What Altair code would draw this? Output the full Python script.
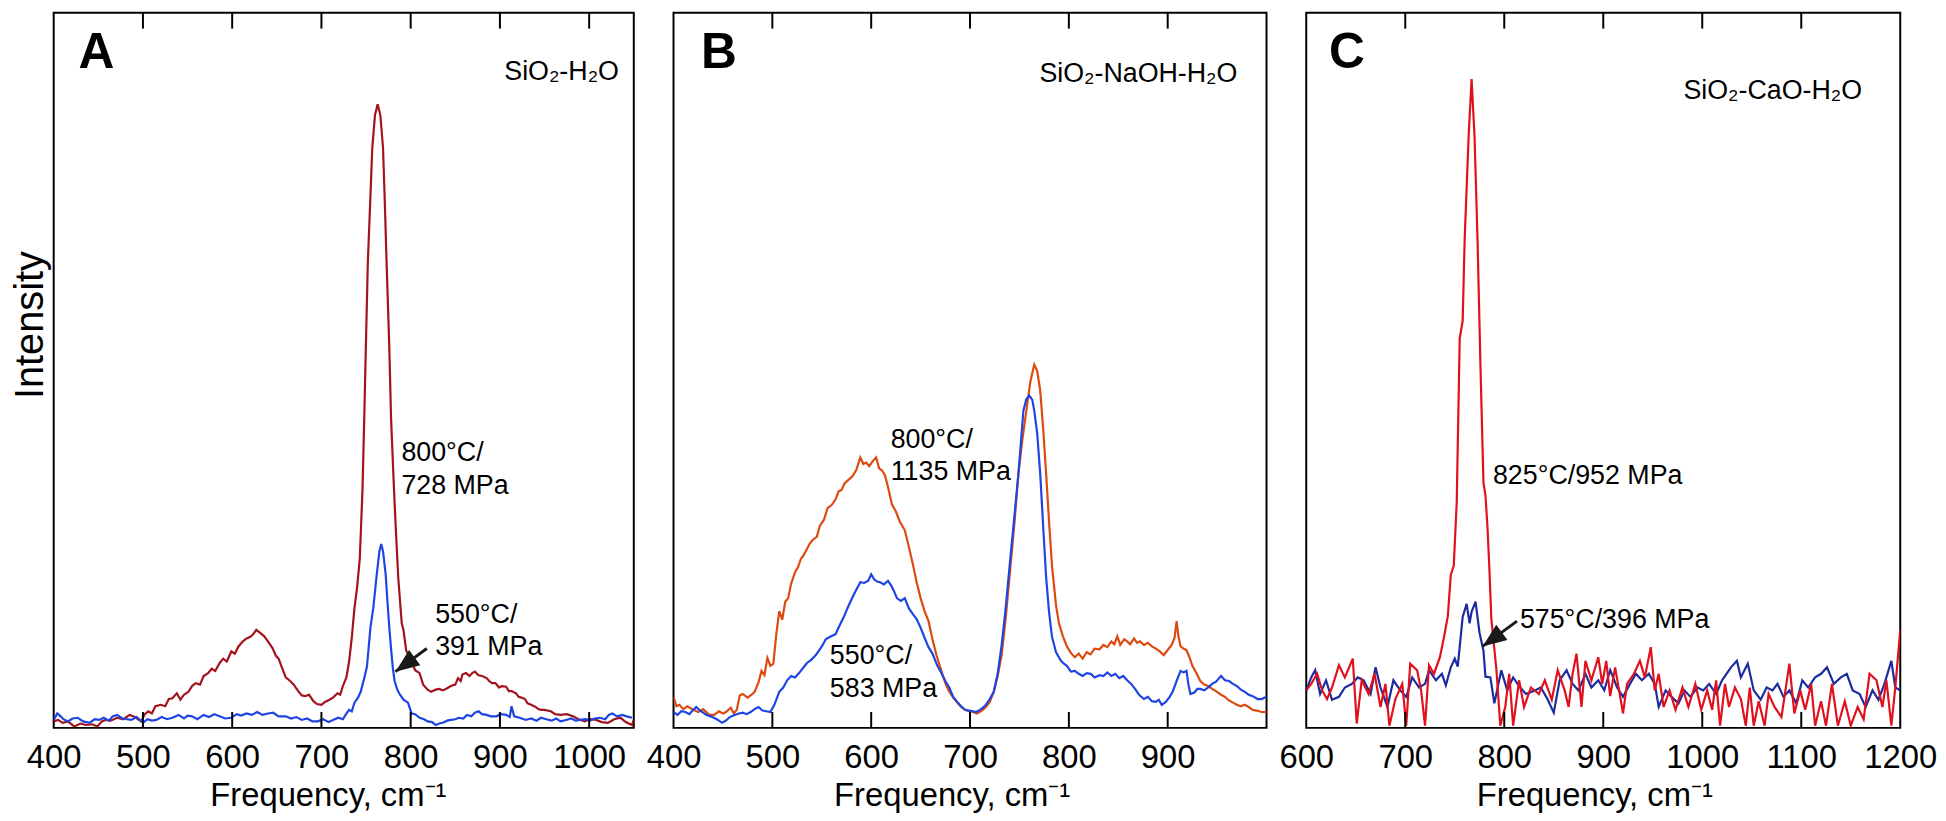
import altair as alt
import pandas as pd

FONT = "Liberation Sans"
H = 720
YTOP = 99.2

# ---------------- Panel A : SiO2-H2O ----------------
A_RED_X = [400, 405, 410, 416, 423, 430, 436, 443, 449, 454, 458, 464, 471, 478, 485, 491, 498, 502, 506, 510,
           514, 520, 525, 529, 533, 538, 542, 546, 551, 555, 559, 564, 568, 573, 577, 581, 586, 590, 594, 599,
           603, 607, 612, 616, 620, 623, 627, 631, 636, 640, 645, 649, 652, 656, 660, 665, 669, 674, 678, 682,
           686, 691, 695, 700, 704, 709, 713, 718, 721, 724, 728, 731, 734, 737, 740, 743, 746, 748, 750, 752,
           755, 757, 760, 763, 766, 769, 771, 773, 776, 778, 781, 783, 786, 788, 790, 792, 795, 798, 801, 805,
           810, 814, 819, 823, 828, 832, 836, 841, 845, 850, 853, 856, 858, 862, 866, 869, 872, 876, 880, 885,
           888, 891, 895, 899, 902, 907, 910, 913, 918, 921, 924, 928, 931, 935, 940, 943, 946, 950, 957, 962,
           968, 975, 982, 988, 995, 1001, 1008, 1014, 1021, 1028, 1035, 1041, 1048, 1050]
A_RED_Y = [0.9, 1.1, 0.7, 0.9, 0.2, 0.6, 0.4, 0.5, 0.2, 0.9, 1.1, 1.0, 1.4, 1.2, 1.8, 1.5, 0.9, 1.9, 2.3, 2.0,
           3.0, 3.2, 3.0, 4.0, 4.1, 4.8, 3.9, 4.6, 5.0, 5.8, 6.2, 6.0, 7.2, 7.6, 8.2, 7.9, 9.0, 9.6, 9.2, 10.6,
           10.3, 11.3, 12.0, 12.4, 12.6, 12.9, 13.6, 13.2, 12.7, 12.0, 11.1, 10.0, 9.6, 8.3, 7.0, 6.5, 6.0, 5.1, 4.5, 4.4,
           4.6, 3.7, 3.3, 3.2, 3.6, 3.9, 4.2, 4.8, 4.6, 5.8, 7.0, 9.2, 12.5, 16.6, 19.5, 23.5, 33.0, 43.0, 54.0, 64.6,
           74.0, 80.5, 85.0, 86.5, 85.0, 80.5, 73.0, 64.6, 53.0, 43.0, 34.0, 28.5, 21.0, 17.7, 14.5, 13.5, 10.7, 10.0, 9.2, 8.0,
           7.6, 6.0, 5.3, 5.0, 5.3, 5.4, 5.2, 5.5, 5.8, 6.0, 6.9, 6.5, 7.4, 7.6, 7.2, 7.6, 7.8, 7.3, 7.2, 6.9,
           6.5, 6.2, 6.2, 5.6, 5.8, 5.7, 5.1, 5.1, 4.8, 4.3, 4.2, 4.0, 3.4, 3.2, 2.9, 2.6, 2.5, 2.5, 2.3, 1.9,
           1.8, 1.9, 1.6, 1.2, 0.9, 1.2, 1.1, 0.8, 0.7, 1.2, 1.4, 0.8, 0.4, 1.1]
A_BLUE_X = [400, 404, 407, 411, 416, 421, 427, 433, 440, 446, 451, 456, 462, 466, 471, 477, 482, 487, 493, 500,
            505, 510, 515, 521, 527, 533, 540, 546, 550, 555, 561, 568, 574, 580, 586, 592, 599, 605, 610, 616,
            622, 628, 634, 640, 646, 652, 660, 666, 672, 678, 684, 690, 696, 702, 708, 713, 719, 724, 727, 731,
            734, 737, 741, 744, 748, 751, 755, 758, 762, 765, 767, 769, 772, 774, 776, 778, 780, 782, 785, 788,
            792, 797, 801, 805, 810, 815, 819, 824, 828, 832, 836, 841, 845, 850, 854, 859, 863, 868, 872, 876,
            880, 885, 890, 896, 901, 907, 911, 913, 916, 922, 929, 935, 941, 946, 952, 958, 963, 968, 974, 980,
            985, 990, 996, 1001, 1006, 1012, 1018, 1022, 1026, 1031, 1037, 1042, 1048]
A_BLUE_Y = [1.1, 2.0, 1.7, 1.2, 0.9, 1.3, 1.4, 0.9, 0.7, 1.2, 1.1, 1.4, 1.0, 1.6, 1.8, 1.3, 1.2, 1.1, 1.5, 0.7,
            1.2, 1.0, 1.1, 1.5, 1.2, 1.4, 1.8, 1.3, 1.7, 1.6, 1.2, 1.8, 1.5, 1.9, 1.6, 1.3, 1.4, 1.9, 1.7, 2.0,
            1.8, 2.2, 1.8, 2.0, 2.1, 1.6, 1.6, 1.3, 1.5, 1.1, 1.3, 0.9, 0.9, 1.2, 0.8, 1.1, 1.4, 1.2, 1.8, 2.5,
            2.3, 3.5, 4.2, 5.0, 6.9, 8.5, 14.0, 16.5, 21.3, 24.5, 25.5, 24.5, 21.3, 17.5, 14.0, 11.0, 8.3, 6.5, 5.3, 4.6,
            3.9, 3.5, 2.0, 1.9, 1.4, 1.2, 0.9, 0.8, 0.4, 0.6, 0.7, 1.0, 1.1, 1.2, 1.4, 1.3, 1.8, 1.6, 2.1, 2.3,
            1.9, 1.8, 1.6, 1.6, 1.9, 1.8, 1.5, 3.0, 1.6, 1.4, 1.1, 1.3, 1.0, 1.4, 1.2, 1.0, 1.3, 0.9, 1.1, 1.3,
            1.0, 1.1, 1.2, 1.0, 1.3, 1.4, 1.2, 1.8, 2.0, 1.6, 1.8, 1.6, 1.4]

# ---------------- Panel B : SiO2-NaOH-H2O ----------------
B_OR_X = [400, 403, 406, 410, 414, 420, 425, 430, 436, 441, 446, 450, 453, 458, 461, 464, 467, 470, 475, 479,
          482, 486, 489, 492, 495, 498, 501, 504, 507, 510, 513, 516, 519, 523, 526, 529, 531, 535, 538, 541,
          545, 548, 552, 556, 560, 564, 567, 570, 573, 577, 581, 585, 589, 592, 595, 598, 601, 605, 608, 611,
          614, 617, 621, 625, 629, 634, 638, 642, 646, 650, 654, 658, 662, 666, 671, 675, 679, 683, 687, 691,
          695, 699, 703, 707, 712, 716, 720, 724, 728, 732, 736, 740, 745, 749, 753, 757, 761, 765, 768, 771,
          774, 777, 780, 783, 787, 790, 794, 798, 802, 806, 810, 814, 818, 822, 826, 831, 835, 839, 843, 846,
          849, 852, 856, 859, 862, 866, 869, 872, 876, 880, 884, 888, 892, 896, 900, 904, 907, 909, 911, 913,
          916, 919, 922, 925, 929, 933, 937, 941, 945, 950, 954, 958, 962, 966, 970, 974, 978, 982, 986, 990,
          995, 1000]
B_OR_Y = [4.3, 3.0, 3.2, 2.6, 3.0, 2.5, 2.2, 2.6, 1.8, 1.8, 2.3, 2.0, 2.2, 2.8, 2.0, 2.5, 4.5, 4.7, 4.2, 4.6,
          5.0, 6.3, 7.9, 7.3, 9.7, 8.6, 8.9, 13.0, 16.2, 15.0, 17.5, 18.0, 20.0, 21.6, 22.3, 23.5, 23.8, 24.8, 25.6, 26.1,
          26.5, 28.0, 28.8, 30.5, 30.9, 31.7, 32.8, 33.0, 33.9, 34.4, 34.9, 35.8, 37.5, 36.6, 36.8, 36.3, 36.9, 37.5, 36.0, 35.7,
          35.0, 33.4, 31.0, 30.0, 28.6, 27.4, 25.2, 22.8, 20.2, 18.0, 16.2, 14.8, 12.3, 10.1, 7.9, 6.2, 5.0, 4.2, 3.5, 2.9,
          2.5, 2.3, 2.2, 2.0, 2.4, 2.9, 3.6, 5.0, 7.2, 10.1, 15.0, 21.0, 28.5, 35.3, 40.0, 44.0, 48.0, 50.4, 49.5, 46.8,
          41.5, 35.3, 28.5, 22.4, 17.0, 14.5, 12.7, 11.3, 10.4, 9.8, 10.3, 9.6, 10.5, 10.2, 11.0, 10.9, 11.5, 11.2, 12.0, 11.6,
          12.7, 11.5, 12.3, 12.0, 11.6, 12.4, 11.8, 12.0, 11.5, 11.8, 11.3, 11.0, 10.6, 10.1, 10.8, 11.5, 12.5, 14.8, 12.6, 11.3,
          11.0, 10.8, 9.8, 8.6, 7.6, 6.5, 6.0, 5.8, 5.4, 5.0, 4.6, 4.3, 3.8, 3.5, 3.2, 3.0, 3.2, 2.9, 2.5, 2.4,
          2.2, 2.2]
B_BL_X = [400, 404, 408, 412, 416, 420, 423, 427, 430, 433, 437, 441, 445, 449, 453, 457, 462, 466, 470, 474,
          478, 482, 486, 490, 494, 498, 502, 507, 511, 515, 519, 523, 527, 531, 535, 539, 544, 548, 551, 554,
          558, 561, 564, 568, 572, 576, 580, 584, 589, 593, 597, 600, 603, 606, 609, 613, 617, 620, 623, 626,
          630, 634, 638, 642, 646, 650, 654, 658, 662, 667, 671, 675, 679, 683, 687, 691, 695, 699, 703, 706,
          710, 713, 716, 720, 724, 728, 732, 736, 740, 745, 749, 752, 754, 757, 760, 763, 765, 768, 771, 774,
          777, 780, 783, 787, 792, 795, 798, 802, 806, 810, 814, 818, 822, 826, 831, 835, 839, 843, 847, 851,
          855, 859, 863, 867, 871, 876, 880, 884, 888, 891, 894, 898, 902, 905, 909, 913, 916, 919, 921, 923,
          927, 930, 933, 937, 941, 945, 949, 952, 954, 958, 962, 966, 970, 974, 978, 982, 986, 991, 995, 1000]
B_BL_Y = [2.2, 1.8, 2.3, 2.2, 1.9, 2.5, 2.9, 2.4, 2.1, 1.8, 1.6, 1.4, 1.1, 0.7, 1.0, 1.5, 1.8, 2.0, 2.1, 1.9,
          2.2, 2.6, 2.9, 2.4, 2.3, 2.2, 3.2, 5.0, 5.6, 6.6, 7.2, 7.0, 7.6, 8.3, 9.0, 9.4, 10.1, 10.9, 11.5, 12.3,
          12.6, 12.8, 13.0, 14.2, 15.3, 16.6, 17.8, 18.9, 20.2, 20.1, 20.4, 21.3, 20.6, 20.3, 20.2, 19.9, 20.4, 19.8, 19.0, 18.0,
          17.6, 18.0, 16.6, 15.8, 15.1, 13.9, 12.5, 11.2, 10.3, 8.6, 7.6, 6.5, 5.6, 4.3, 3.6, 3.0, 2.5, 2.4, 2.3, 2.2,
          2.5, 2.8, 3.2, 4.0, 5.0, 7.5, 11.5, 16.5, 22.4, 29.5, 35.3, 40.5, 44.0, 45.6, 46.1, 45.5, 44.0, 40.8, 35.3, 28.0,
          20.9, 16.0, 12.6, 10.5, 9.3, 8.9, 8.6, 7.8, 7.9, 7.5, 7.2, 7.6, 7.5, 7.0, 7.3, 7.2, 7.7, 7.2, 7.5, 6.9,
          7.2, 6.6, 6.1, 5.4, 4.6, 4.0, 4.3, 3.7, 3.6, 3.9, 3.2, 3.6, 4.3, 5.0, 6.5, 7.9, 7.7, 7.9, 6.0, 4.7,
          4.9, 5.4, 5.4, 5.2, 5.6, 6.1, 6.4, 6.9, 7.2, 6.6, 6.5, 6.1, 5.8, 5.3, 5.0, 4.6, 4.4, 4.0, 4.0, 4.3]

# ---------------- Panel C : SiO2-CaO-H2O ----------------
C_RED_X = [600, 605, 611, 616, 621, 626, 633, 639, 647, 651, 656, 663, 669, 675, 680, 684, 690, 697, 701, 705,
           712, 716, 720, 724, 729, 735, 739, 743, 746, 749, 752, 755, 758, 760, 764, 767, 770, 773, 776, 779,
           781, 783, 785, 787, 792, 796, 801, 805, 809, 815, 820, 827, 835, 841, 848, 854, 861, 865, 869, 873,
           878, 882, 888, 895, 899, 903, 907, 912, 916, 920, 924, 931, 937, 942, 948, 952, 956, 961, 967, 973,
           980, 986, 993, 999, 1005, 1010, 1014, 1018, 1023, 1027, 1033, 1039, 1044, 1048, 1052, 1057, 1063, 1067, 1073, 1080,
           1084, 1088, 1093, 1099, 1104, 1110, 1114, 1120, 1125, 1131, 1137, 1144, 1150, 1157, 1163, 1169, 1176, 1182, 1186, 1191,
           1195, 1200]
C_RED_Y = [5.2, 6.1, 7.5, 5.2, 4.0, 5.6, 8.7, 7.0, 9.6, 0.6, 6.6, 4.7, 7.5, 2.9, 6.1, 0.3, 4.0, 6.1, 0.3, 8.9,
           8.0, 5.2, 0.3, 8.7, 7.5, 9.8, 12.5, 15.5, 21.2, 22.5, 31.3, 54.0, 56.5, 67.7, 82.0, 90.0, 82.0, 67.7, 50.0, 34.0,
           32.3, 28.0, 22.0, 15.0, 8.2, 0.3, 2.9, 7.5, 0.3, 6.6, 2.9, 5.6, 4.7, 6.6, 3.9, 8.0, 5.2, 2.9, 7.5, 10.3,
           2.9, 9.3, 6.6, 9.8, 6.1, 9.3, 4.4, 8.4, 5.2, 2.0, 6.1, 7.5, 9.3, 7.0, 11.2, 5.2, 7.5, 2.9, 5.2, 2.5,
           5.6, 2.9, 6.1, 2.5, 5.2, 2.5, 6.6, 0.3, 6.1, 2.9, 5.6, 4.0, 0.3, 5.6, 0.3, 3.7, 0.3, 4.7, 2.9, 1.5,
           5.2, 8.9, 2.0, 5.2, 2.5, 6.1, 0.3, 3.7, 0.3, 6.1, 0.3, 3.7, 0.3, 2.9, 1.2, 7.5, 6.6, 2.9, 6.6, 0.3,
           5.6, 13.6]
C_BL_X = [600, 605, 609, 614, 620, 626, 633, 639, 646, 652, 658, 665, 670, 675, 682, 688, 695, 701, 707, 714,
          720, 724, 731, 737, 741, 746, 750, 753, 758, 762, 765, 767, 771, 775, 779, 781, 786, 790, 797, 803,
          809, 816, 822, 831, 837, 844, 850, 856, 863, 869, 875, 882, 888, 895, 901, 907, 914, 920, 927, 933,
          939, 946, 952, 956, 963, 969, 976, 982, 988, 995, 1001, 1007, 1014, 1020, 1029, 1035, 1039, 1046, 1052, 1059,
          1065, 1071, 1076, 1082, 1088, 1095, 1101, 1107, 1114, 1120, 1126, 1133, 1140, 1146, 1152, 1159, 1165, 1172,
          1178, 1184, 1191, 1195, 1200]
C_BL_Y = [5.2, 7.0, 8.0, 4.7, 6.6, 3.9, 4.3, 5.6, 6.1, 7.0, 6.6, 4.7, 8.4, 5.6, 2.9, 6.6, 5.2, 4.3, 7.0, 5.6,
          6.1, 8.0, 6.6, 7.5, 5.9, 8.4, 9.6, 8.5, 15.4, 17.2, 14.5, 16.1, 17.5, 13.2, 10.7, 7.1, 7.0, 3.4, 8.0, 5.2,
          7.0, 5.6, 4.7, 5.2, 5.6, 3.9, 2.1, 6.6, 8.0, 6.1, 5.2, 7.5, 5.6, 6.6, 5.2, 8.0, 5.6, 4.3, 6.1, 7.5,
          6.6, 7.5, 6.1, 2.9, 5.2, 4.3, 3.4, 5.2, 4.3, 5.6, 5.2, 6.1, 4.7, 6.6, 8.4, 9.3, 7.0, 8.9, 5.2, 3.9,
          5.6, 5.2, 6.1, 4.3, 5.2, 3.4, 6.6, 5.6, 7.0, 7.5, 8.4, 6.1, 7.0, 7.5, 5.2, 4.7, 2.9, 5.2,
          3.9, 6.1, 9.3, 5.6, 5.2]

# ---------------- Tick values ----------------
A_LABEL_TICKS = [400, 500, 600, 700, 800, 900, 1000]
A_MARK_TICKS = [500, 600, 700, 800, 900, 1000]
B_LABEL_TICKS = [400, 500, 600, 700, 800, 900]
B_MARK_TICKS = [500, 600, 700, 800, 900]
C_LABEL_TICKS = [600, 700, 800, 900, 1000, 1100, 1200]
C_MARK_TICKS = [700, 800, 900, 1000, 1100]

# ---------------- Annotations ----------------
A_NOTE_TEXT = ["800°C/", "728 MPa", "550°C/", "391 MPa"]
A_NOTE_X = [789.6, 789.6, 827.4, 827.4]
A_NOTE_Y = [37.0, 32.5, 14.6, 10.1]
B_NOTE_TEXT = ["800°C/", "1135 MPa", "550°C/", "583 MPa"]
B_NOTE_X = [619.7, 619.7, 558.2, 558.2]
B_NOTE_Y = [38.8, 34.4, 8.8, 4.3]
C_NOTE_TEXT = ["825°C/952 MPa", "575°C/396 MPa"]
C_NOTE_X = [788.6, 815.8]
C_NOTE_Y = [33.8, 13.8]

ARROW_A = dict(x=818.1, y=11.0, x2=782.9, y2=7.8)
ARROW_C = dict(x=812.9, y=14.8, x2=778.1, y2=11.3)
ARROW_ANGLE = 234
HEAD = "M0,0L0.8,2L-0.8,2Z"


def panel(letter, system, sys_pos, letter_x, xdom, width, series, label_ticks, mark_ticks,
          notes, arrow, ytitle, title_x):
    xs = alt.Scale(domain=xdom, nice=False, zero=False)
    ys = alt.Scale(domain=[0, YTOP], nice=False, zero=False)
    xaxis = alt.Axis(values=label_ticks, format="d", title="Frequency, cm⁻¹", domain=False, ticks=False,
                     tickSize=0, grid=False, labelFlush=False, labelOverlap=False, labelFontSize=33,
                     labelPadding=14, titleFontSize=33, titlePadding=5, labelFont=FONT, titleFont=FONT,
                     labelColor="black", titleColor="black", titleFontWeight="normal", titleX=title_x)
    if ytitle:
        yaxis = alt.Axis(title="Intensity", labels=False, ticks=False, tickSize=0, domain=False, grid=False,
                         titleFontSize=40, titlePadding=3, titleFont=FONT, titleColor="black",
                         titleFontWeight="normal", titleY=314)
    else:
        yaxis = None
    X = alt.X("x:Q", scale=xs, axis=xaxis)
    Y = alt.Y("y:Q", scale=ys, axis=yaxis)

    layers = []
    for xv, yv, col in series:
        df = pd.DataFrame({"x": xv, "y": yv})
        layers.append(alt.Chart(df).mark_line(color=col, strokeWidth=2.2, clip=True).encode(x=X, y=Y))

    tdf = pd.DataFrame({"x": mark_ticks})
    layers.append(alt.Chart(tdf).mark_rule(color="black", strokeWidth=2).encode(
        x=X, y=alt.value(0), y2=alt.value(16)))
    layers.append(alt.Chart(tdf).mark_rule(color="black", strokeWidth=2).encode(
        x=X, y=alt.value(H - 16), y2=alt.value(H)))

    ndf = pd.DataFrame({"x": notes[1], "y": notes[2], "t": notes[0]})
    layers.append(alt.Chart(ndf).mark_text(align="left", baseline="alphabetic", fontSize=27, font=FONT,
                                           color="black").encode(x=X, y=Y, text="t:N"))

    ldf = pd.DataFrame({"x": [letter_x], "y": [91.5], "t": [letter]})
    layers.append(alt.Chart(ldf).mark_text(align="left", baseline="alphabetic", fontSize=50, font=FONT,
                                           fontWeight="bold", color="black").encode(x=X, y=Y, text="t:N"))
    sdf = pd.DataFrame({"x": [sys_pos[0]], "y": [sys_pos[1]], "t": [system]})
    layers.append(alt.Chart(sdf).mark_text(align="right", baseline="alphabetic", fontSize=27, font=FONT,
                                           color="black").encode(x=X, y=Y, text="t:N"))

    if arrow is not None:
        adf = pd.DataFrame([arrow])
        layers.append(alt.Chart(adf).mark_rule(color="#1a1a1a", strokeWidth=3).encode(
            x=X, y=Y, x2="x2:Q", y2="y2:Q"))
        hdf = pd.DataFrame({"x": [arrow["x2"]], "y": [arrow["y2"]]})
        layers.append(alt.Chart(hdf).mark_point(shape=HEAD, filled=True, size=576, angle=ARROW_ANGLE,
                                                color="#1a1a1a", opacity=1, strokeWidth=0).encode(x=X, y=Y))

    return alt.layer(*layers).properties(width=width, height=H)


pA = panel("A", "SiO₂-H₂O", (1033.3, 89.9), 427.8, [400, 1050], 584,
           [(A_RED_X, A_RED_Y, "#a3131b"), (A_BLUE_X, A_BLUE_Y, "#1e44e4")],
           A_LABEL_TICKS, A_MARK_TICKS, (A_NOTE_TEXT, A_NOTE_X, A_NOTE_Y), ARROW_A, True, 276)
pB = panel("B", "SiO₂-NaOH-H₂O", (970.5, 89.6), 427.7, [400, 1000], 597,
           [(B_OR_X, B_OR_Y, "#dc4a10"), (B_BL_X, B_BL_Y, "#1e44e4")],
           B_LABEL_TICKS, B_MARK_TICKS, (B_NOTE_TEXT, B_NOTE_X, B_NOTE_Y), None, False, 280)
pC = panel("C", "SiO₂-CaO-H₂O", (1161.4, 87.2), 623.1, [600, 1200], 598,
           [(C_BL_X, C_BL_Y, "#1c2c9e"), (C_RED_X, C_RED_Y, "#e0101c")],
           C_LABEL_TICKS, C_MARK_TICKS, (C_NOTE_TEXT, C_NOTE_X, C_NOTE_Y), ARROW_C, False, 290)

chart = alt.hconcat(pA, pB, pC, spacing=40, bounds="flush").properties(
    padding={"left": 2, "top": 0, "right": 0, "bottom": 0}, background="white"
).configure_view(stroke="black", strokeWidth=2)

chart.save("out.html", embed_options={"renderer": "svg", "actions": False})
